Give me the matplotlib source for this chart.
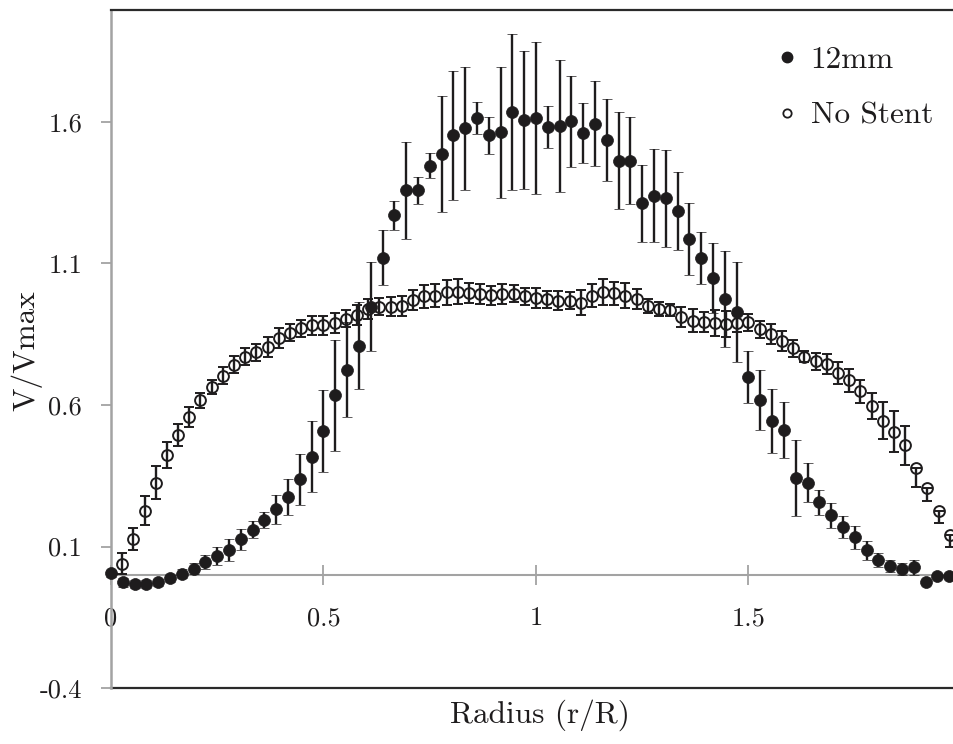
import numpy as np
import matplotlib
matplotlib.use("Agg")
from matplotlib import pyplot as plt
from matplotlib.lines import Line2D

plt.rcParams["font.family"] = ["cmr10", "DejaVu Serif"]
plt.rcParams["axes.unicode_minus"] = False
plt.rcParams["mathtext.fontset"] = "cm"

# data
series_names = ["12mm", "No Stent"]

# 12mm stent, points every 1/36 of r/R starting at 0
stent_step = 1 / 36
stent_v = [0.005, -0.027, -0.032, -0.032, -0.026, -0.012, 0.004, 0.022, 0.044, 0.066,
           0.087, 0.126, 0.160, 0.193, 0.231, 0.276, 0.337, 0.418, 0.509, 0.635,
           0.724, 0.810, 0.948, 1.121, 1.270, 1.358, 1.358, 1.446, 1.488, 1.553,
           1.578, 1.614, 1.553, 1.563, 1.635, 1.608, 1.614, 1.582, 1.587, 1.602,
           1.561, 1.594, 1.537, 1.463, 1.463, 1.313, 1.340, 1.331, 1.286, 1.187,
           1.119, 1.048, 0.975, 0.930, 0.699, 0.616, 0.544, 0.512, 0.342, 0.326,
           0.256, 0.210, 0.168, 0.132, 0.086, 0.053, 0.032, 0.020, 0.026, -0.027,
           -0.004, -0.004]
stent_err = [0.012, 0.015, 0.015, 0.015, 0.012, 0.012, 0.015, 0.020, 0.025, 0.032,
             0.038, 0.037, 0.031, 0.028, 0.050, 0.064, 0.090, 0.127, 0.145, 0.196,
             0.168, 0.154, 0.157, 0.096, 0.051, 0.173, 0.046, 0.044, 0.205, 0.228,
             0.217, 0.055, 0.065, 0.230, 0.276, 0.244, 0.269, 0.075, 0.233, 0.162,
             0.106, 0.150, 0.144, 0.172, 0.153, 0.136, 0.163, 0.171, 0.138, 0.128,
             0.093, 0.124, 0.170, 0.177, 0.092, 0.106, 0.114, 0.098, 0.135, 0.068,
             0.044, 0.043, 0.039, 0.040, 0.034, 0.025, 0.021, 0.020, 0.026, 0.0,
             0.0, 0.0]

# no stent, points every 1/38 of r/R starting at 1/38
open_step = 1 / 38
open_v = [0.039, 0.126, 0.227, 0.326, 0.422, 0.495, 0.559, 0.616, 0.663, 0.703,
          0.742, 0.771, 0.786, 0.804, 0.836, 0.856, 0.872, 0.881, 0.881, 0.889,
          0.905, 0.919, 0.940, 0.948, 0.948, 0.951, 0.972, 0.984, 0.986, 0.998,
          1.001, 0.995, 0.993, 0.987, 0.992, 0.993, 0.984, 0.978, 0.974, 0.969,
          0.969, 0.962, 0.986, 0.999, 0.995, 0.986, 0.974, 0.951, 0.939, 0.936,
          0.911, 0.898, 0.892, 0.889, 0.887, 0.889, 0.892, 0.868, 0.852, 0.827,
          0.801, 0.771, 0.754, 0.746, 0.713, 0.687, 0.648, 0.597, 0.545, 0.506,
          0.457, 0.377, 0.306, 0.224, 0.141, 0.064]
open_err_lo = [0.037, 0.040, 0.050, 0.058, 0.046, 0.039, 0.035, 0.028, 0.025, 0.030,
               0.030, 0.030, 0.030, 0.035, 0.035, 0.030, 0.030, 0.035, 0.035, 0.035,
               0.030, 0.035, 0.035, 0.030, 0.035, 0.035, 0.035, 0.040, 0.040, 0.045,
               0.045, 0.035, 0.035, 0.035, 0.035, 0.030, 0.030, 0.035, 0.030, 0.035,
               0.030, 0.045, 0.040, 0.045, 0.040, 0.045, 0.035, 0.025, 0.025, 0.020,
               0.035, 0.040, 0.035, 0.045, 0.045, 0.030, 0.030, 0.030, 0.035, 0.035,
               0.030, 0.020, 0.030, 0.035, 0.040, 0.040, 0.040, 0.045, 0.065, 0.072,
               0.070, 0.065, 0.045, 0.040, 0.042, 0.0]
open_err_hi = open_err_lo[:71] + [0.0, 0.0, 0.0, 0.0, 0.0]

yticks = [-0.4, 0.1, 0.6, 1.1, 1.6]
ytick_labels = ["-0.4", "0.1", "0.6", "1.1", "1.6"]
xticks = [0, 0.5, 1, 1.5]
xtick_labels = ["0", "0.5", "1", "1.5"]

x_stent = np.arange(len(stent_v)) * stent_step
x_open = np.arange(1, len(open_v) + 1) * open_step

ink = "#1e1c1d"
grey = "#a3a3a3"

fig = plt.figure(figsize=(9.54, 7.44), dpi=100)
ax = fig.add_axes([111 / 954, 56 / 744, 843 / 954, 678 / 744])

# no stent (open circles) first, so the 12mm markers sit on top
eb1 = ax.errorbar(x_open, open_v, yerr=[open_err_lo, open_err_hi], fmt="o",
                  ms=7.8, mfc="none", mec=ink, mew=1.4,
                  ecolor=ink, elinewidth=1.7, capsize=3.3, capthick=1.7, zorder=3)
eb2 = ax.errorbar(x_stent, stent_v, yerr=stent_err, fmt="o",
                  ms=8.6, mfc=ink, mec=ink, mew=0.5,
                  ecolor=ink, elinewidth=1.7, capsize=3.3, capthick=1.7, zorder=4)
for eb in (eb1, eb2):
    for art in [eb[0], *eb[1], *eb[2]]:
        art.set_clip_on(False)

ax.set_xlim(0, 843 / 425)
ax.set_ylim(-0.4, -0.4 + 678 / 283)

# axis at y = 0 with ticks crossing it, frame lines at top and bottom
ax.spines["right"].set_visible(False)
ax.spines["top"].set_color("#2a2a2a")
ax.spines["top"].set_linewidth(1.6)
ax.spines["left"].set_color(grey)
ax.spines["left"].set_linewidth(1.8)
ax.spines["bottom"].set_position(("data", 0))
ax.spines["bottom"].set_color(grey)
ax.spines["bottom"].set_linewidth(1.5)
ax.axhline(-0.4, color="#2a2a2a", lw=1.6, clip_on=False, zorder=1)

ax.set_xticks(xticks, xtick_labels)
ax.set_yticks(yticks, ytick_labels)
ax.tick_params(axis="x", direction="inout", length=13.7, width=1.3, color=grey,
               pad=16, labelsize=19, labelcolor=ink)
ax.tick_params(axis="y", direction="out", length=7.2, width=1.3, color=grey,
               pad=13.5, labelsize=19, labelcolor=ink)

fig.text(540 / 954, 1 - 715 / 744, "Radius (r/R)", ha="center", va="center",
         fontsize=22.5, color=ink)
fig.text(27 / 954, 1 - 351 / 744, "V/Vmax", ha="center", va="center",
         rotation=90, fontsize=22.5, color=ink)

handles = [Line2D([], [], ls="none", marker="o", ms=7.5, mfc=ink, mec=ink),
           Line2D([], [], ls="none", marker="o", ms=6, mfc="none", mec=ink, mew=1.3)]
leg = ax.legend(handles, series_names, loc="upper left",
                bbox_to_anchor=(778 / 954, 1 - 46 / 744), bbox_transform=fig.transFigure,
                frameon=False, fontsize=22.5, handlelength=0.6, handletextpad=0.45,
                labelspacing=0.9, borderpad=0, borderaxespad=0)
for t in leg.get_texts():
    t.set_color(ink)

fig.savefig("out.png", dpi=100)
